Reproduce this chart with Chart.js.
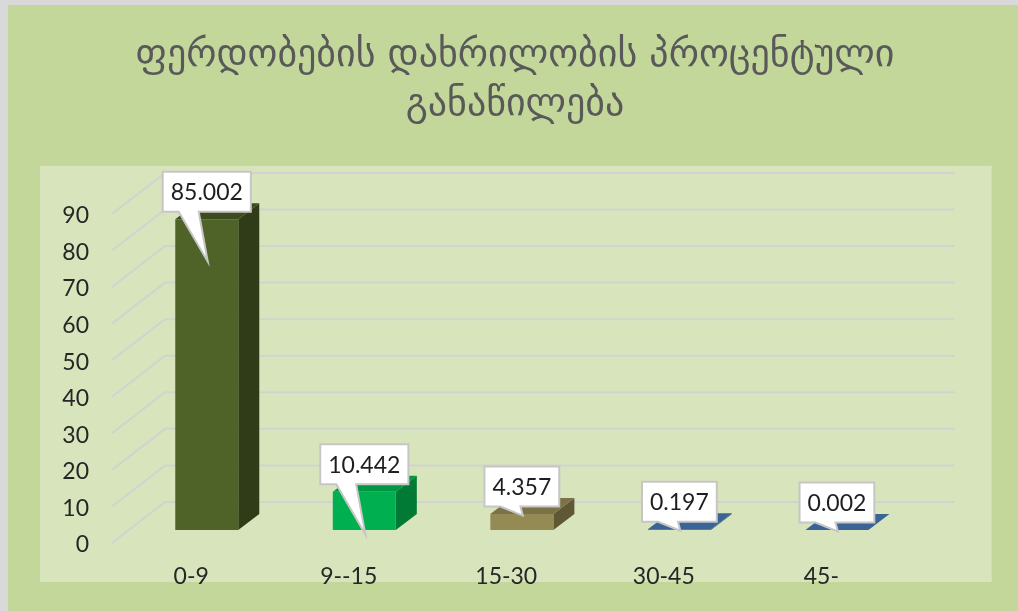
<!DOCTYPE html>
<html>
<head>
<meta charset="utf-8">
<title>ფერდობების დახრილობა</title>
<script src="https://cdn.jsdelivr.net/npm/chart.js@4.4.1/dist/chart.umd.min.js"></script>
<style>
  html, body { margin: 0; padding: 0; background: #d9d9d9; }
  #wrap { position: absolute; left: 8px; top: 5px; width: 1010px; height: 606px; background: #c4d79b; }
</style>
</head>
<body>
<div id="wrap"><canvas id="chart-bar"></canvas></div>
<script>
var titleLines = ['ფერდობების დახრილობის პროცენტული', 'განაწილება'];
var categories = ['0-9', '9--15', '15-30', '30-45', '45-'];
var shares = [85.002, 10.442, 4.357, 0.197, 0.002];
var yMax = 90;
var yStep = 10;

var frontColors = ['#4f6228', '#00b050', '#948a54', '#3b6597', '#3b6597'];
var topColors = ['#3d4c1f', '#009744', '#7b7247', '#3a6496', '#3a6496'];
var sideColors = ['#303c18', '#007a35', '#5f5835', '#2b4a70', '#2b4a70'];

// fake excel 3d: depth of the bars and of the walls (px)
var depthX = 21, depthY = -16;
var wallFront = 13, wallBack = -28;
var labelFont = '23px Lato, "Open Sans", sans-serif';

var wallsPlugin = {
    id: 'walls',
    beforeDraw: function(chart) {
        var ctx = chart.ctx, area = chart.chartArea, y = chart.scales.y;
        ctx.save();
        // plot area
        ctx.fillStyle = '#d8e4bc';
        ctx.fillRect(area.left - 88, area.top - 35, area.right - area.left + 164, area.bottom - area.top + 87);
        // side wall + back wall lines
        ctx.strokeStyle = '#d2d3d0';
        ctx.lineWidth = 2;
        y.ticks.forEach(function(t) {
            var p = y.getPixelForValue(t.value);
            ctx.beginPath();
            ctx.moveTo(area.left - 16, p + wallFront);
            ctx.lineTo(area.left + 37, p + wallBack);
            ctx.lineTo(area.right + 39, p + wallBack);
            ctx.stroke();
        });
        ctx.restore();
    },
    beforeDatasetsDraw: function(chart) {
        var ctx = chart.ctx;
        var meta = chart.getDatasetMeta(0);
        ctx.save();
        meta.data.forEach(function(bar, i) {
            var l = bar.x - bar.width / 2, r = bar.x + bar.width / 2;
            var t = bar.y, b = bar.base;
            // side
            ctx.fillStyle = sideColors[i];
            ctx.beginPath();
            ctx.moveTo(r, t);
            ctx.lineTo(r + depthX, t + depthY);
            ctx.lineTo(r + depthX, b + depthY);
            ctx.lineTo(r, b);
            ctx.closePath();
            ctx.fill();
            // top
            ctx.fillStyle = topColors[i];
            ctx.beginPath();
            ctx.moveTo(l, t);
            ctx.lineTo(l + depthX, t + depthY);
            ctx.lineTo(r + depthX, t + depthY);
            ctx.lineTo(r, t);
            ctx.closePath();
            ctx.fill();
        });
        ctx.restore();
    }
};

var calloutPlugin = {
    id: 'callouts',
    afterDatasetsDraw: function(chart) {
        var ctx = chart.ctx;
        var meta = chart.getDatasetMeta(0);
        ctx.save();
        ctx.font = labelFont;
        meta.data.forEach(function(bar, i) {
            var text = shares[i].toFixed(3);
            var w = ctx.measureText(text).width + 16, h = 40;
            var cx = bar.x, cy = bar.y - 27.5;
            var l = cx - w / 2, r = cx + w / 2, t = cy - h / 2, b = cy + h / 2;
            var tipY = b + (bar.base - bar.y > 30 ? 50 : 9);
            ctx.beginPath();
            ctx.moveTo(l, t);
            ctx.lineTo(r, t);
            ctx.lineTo(r, b);
            ctx.lineTo(l + 36, b);
            ctx.lineTo(cx + 1, tipY);
            ctx.lineTo(l + 16, b);
            ctx.lineTo(l, b);
            ctx.closePath();
            ctx.fillStyle = '#ffffff';
            ctx.fill();
            ctx.strokeStyle = '#c6c6c6';
            ctx.lineWidth = 2;
            ctx.stroke();
            ctx.fillStyle = '#1e1e1e';
            ctx.textAlign = 'center';
            ctx.textBaseline = 'middle';
            ctx.fillText(text, cx, cy + 1);
        });
        ctx.restore();
    }
};

var ctx = document.getElementById('chart-bar');
var myBarChart = new Chart(ctx, {
    type: 'bar',
    data: {
        labels: categories,
        datasets: [{
            data: shares,
            backgroundColor: frontColors,
            borderWidth: 0,
            barPercentage: 0.4,
            categoryPercentage: 1
        }]
    },
    options: {
        responsive: true,
        maintainAspectRatio: false,
        animation: false,
        layout: { padding: { left: 4, right: 0, top: 0, bottom: 0 } },
        plugins: {
            legend: { display: false },
            tooltip: { enabled: false },
            title: {
                display: true,
                text: titleLines,
                color: '#595959',
                font: { family: '"DejaVu Sans"', size: 38, weight: 'normal', lineHeight: '49px' },
                padding: { top: 27, bottom: 70.9 }
            }
        },
        scales: {
            x: {
                grid: { display: false },
                border: { display: false },
                ticks: { color: '#262626', font: { family: 'Lato, "Open Sans", sans-serif', size: 23 }, padding: 25, labelOffset: -15.6, maxRotation: 0 },
                afterFit: function(scale) { scale.height = 81; }
            },
            y: {
                min: 0,
                max: yMax,
                grid: { display: false, drawTicks: false },
                border: { display: false },
                ticks: { stepSize: yStep, color: '#262626', font: { family: 'Lato, "Open Sans", sans-serif', size: 23 }, padding: 39, labelOffset: 15 },
                afterFit: function(scale) { scale.width = 116; }
            },
            // empty right axis, only reserves the space right of the bars
            yRight: {
                position: 'right',
                min: 0,
                max: yMax,
                grid: { display: false, drawTicks: false },
                border: { display: false },
                ticks: { display: false },
                afterFit: function(scale) { scale.width = 102.3; }
            }
        }
    },
    plugins: [wallsPlugin, calloutPlugin]
});
</script>
</body>
</html>
